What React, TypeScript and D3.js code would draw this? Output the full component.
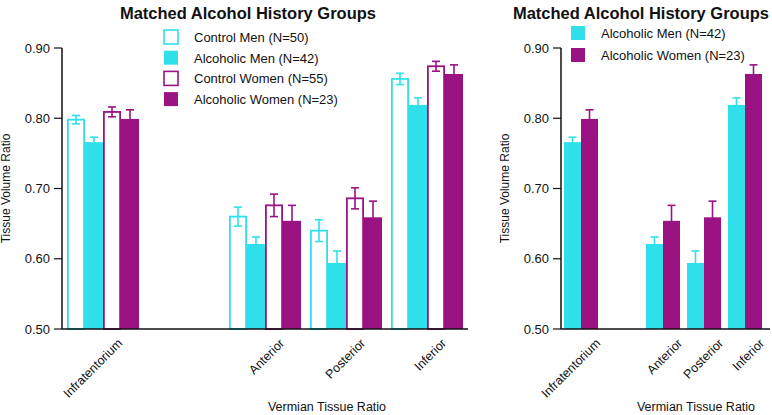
import React from 'react';
import * as d3 from 'd3';

// categories (an empty slot separates Infratentorium from the vermis regions)
const slots = ['Infratentorium', 'gap', 'Anterior', 'Posterior', 'Inferior'];
const regions = ['Infratentorium', 'Anterior', 'Posterior', 'Inferior'];

// group means and standard errors, by region
const controlMen = [0.798, 0.660, 0.640, 0.856];
const controlMenErr = [0.006, 0.0135, 0.0155, 0.008];
const alcoholicMen = [0.766, 0.621, 0.594, 0.819];
const alcoholicMenErr = [0.007, 0.010, 0.017, 0.010];
const controlWomen = [0.809, 0.676, 0.686, 0.874];
const controlWomenErr = [0.007, 0.016, 0.015, 0.007];
const alcoholicWomen = [0.799, 0.654, 0.659, 0.863];
const alcoholicWomenErr = [0.013, 0.022, 0.023, 0.013];

const yTicks = [0.5, 0.6, 0.7, 0.8, 0.9];

const CYAN = '#2fe0ea';
const PURPLE = '#9b1382';

const allSeries = [
  { key: 'cm', label: 'Control Men (N=50)', values: controlMen, err: controlMenErr, color: CYAN, filled: false },
  { key: 'am', label: 'Alcoholic Men (N=42)', values: alcoholicMen, err: alcoholicMenErr, color: CYAN, filled: true },
  { key: 'cw', label: 'Control Women (N=55)', values: controlWomen, err: controlWomenErr, color: PURPLE, filled: false },
  { key: 'aw', label: 'Alcoholic Women (N=23)', values: alcoholicWomen, err: alcoholicWomenErr, color: PURPLE, filled: true },
];

const FONT = '"Liberation Sans", Arial, Helvetica, sans-serif';

type Series = typeof allSeries[number];

const Panel = ({ series, axisX, axisEnd, bandRange, pad, titleX, legendX, legendY, legendStep, xTitleX }: {
  series: Series[]; axisX: number; axisEnd: number; bandRange: [number, number]; pad: number;
  titleX: number; legendX: number; legendY: number; legendStep: number; xTitleX: number;
}) => {
  const y = d3.scaleLinear().domain([0.5, 0.9]).range([329, 48]);
  const x0 = d3.scaleBand().domain(slots).range(bandRange).paddingInner(pad).paddingOuter(0);
  const x1 = d3.scaleBand().domain(series.map((s) => s.key)).range([0, x0.bandwidth()]);
  const bw = x1.bandwidth();
  const capW = 8;

  return (
    <g>
      <text x={titleX} y={19} textAnchor="middle" fontFamily={FONT} fontWeight="bold" fontSize={16.5} fill="#111">
        Matched Alcohol History Groups
      </text>

      {/* legend */}
      {series.map((s, i) => (
        <g key={s.key} transform={`translate(${legendX}, ${legendY + i * legendStep})`}>
          <rect x={0} y={-7} width={14} height={14}
            fill={s.filled ? s.color : '#fff'} stroke={s.color} strokeWidth={s.filled ? 0 : 1.6} />
          <text x={30} y={5} fontFamily={FONT} fontSize={13} fill="#111">{s.label}</text>
        </g>
      ))}

      {/* bars */}
      {regions.map((r, ri) => (
        <g key={r} transform={`translate(${x0(r)}, 0)`}>
          {series.map((s) => {
            const v = s.values[ri];
            const e = s.err[ri];
            const bx = x1(s.key) as number;
            const cx = bx + bw / 2;
            return (
              <g key={s.key}>
                <rect x={bx + (s.filled ? 0 : 0.9)} y={y(v)} width={bw - (s.filled ? 0 : 1.8)} height={y(0.5) - y(v)}
                  fill={s.filled ? s.color : '#fff'} stroke={s.color} strokeWidth={s.filled ? 0 : 1.8} />
                <line x1={cx} x2={cx} y1={y(v + e)} y2={y(v - e)} stroke={s.color} strokeWidth={1.6} />
                <line x1={cx - capW / 2} x2={cx + capW / 2} y1={y(v + e)} y2={y(v + e)} stroke={s.color} strokeWidth={1.6} />
                <line x1={cx - capW / 2} x2={cx + capW / 2} y1={y(v - e)} y2={y(v - e)} stroke={s.color} strokeWidth={1.6} />
              </g>
            );
          })}
        </g>
      ))}

      {/* y axis */}
      <line x1={axisX} x2={axisX} y1={y(0.9)} y2={y(0.5)} stroke="#111" strokeWidth={1.5} />
      {yTicks.map((t) => (
        <g key={t} transform={`translate(0, ${y(t)})`}>
          <line x1={axisX - 8} x2={axisX} stroke="#111" strokeWidth={1.2} />
          <text x={axisX - 12} y={4.5} textAnchor="end" fontFamily={FONT} fontSize={13} fill="#111">
            {d3.format('.2f')(t)}
          </text>
        </g>
      ))}
      <text transform={`translate(${axisX - 52}, ${(y(0.9) + y(0.5)) / 2}) rotate(-90)`} textAnchor="middle"
        fontFamily={FONT} fontSize={12} fill="#111">Tissue Volume Ratio</text>

      {/* x axis */}
      <line x1={axisX} x2={axisEnd} y1={y(0.5)} y2={y(0.5)} stroke="#111" strokeWidth={1.5} />
      {regions.map((r) => (
        <text key={r} transform={`translate(${(x0(r) as number) + x0.bandwidth() / 2 + 20}, 344) rotate(-45)`}
          textAnchor="end" fontFamily={FONT} fontSize={12.5} fill="#111">{r}</text>
      ))}
      <text x={xTitleX} y={411} textAnchor="middle" fontFamily={FONT} fontSize={12.5} fill="#111">Vermian Tissue Ratio</text>
    </g>
  );
};

export default function App() {
  const alcoholicOnly = allSeries.filter((s) => s.filled);
  return (
    <svg width={772} height={415} style={{ position: 'absolute', left: 0, top: 0, background: '#fff' }}>
      <rect width={772} height={415} fill="#fff" />
      <Panel series={allSeries} axisX={62} axisEnd={468} bandRange={[67, 463]} pad={9 / 81}
        titleX={248} legendX={164} legendY={37} legendStep={20.7} xTitleX={327} />
      <Panel series={alcoholicOnly} axisX={561} axisEnd={770} bandRange={[564, 762]} pad={7 / 41}
        titleX={641} legendX={571} legendY={33} legendStep={22} xTitleX={696} />
    </svg>
  );
}
